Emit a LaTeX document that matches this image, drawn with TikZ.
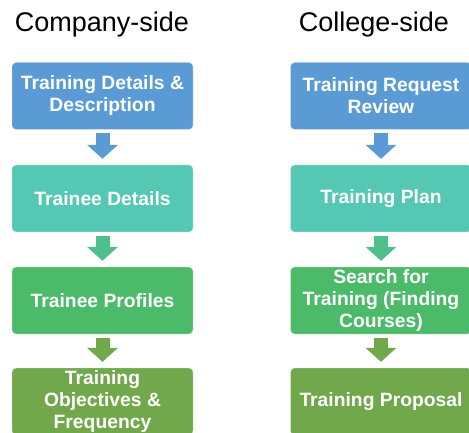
\documentclass[tikz,border=0pt]{standalone}
\usepackage{fontspec}
\setmainfont{Liberation Sans}
\usetikzlibrary{arrows.meta}
\definecolor{stepblue}{HTML}{5B9BD5}
\definecolor{stepteal}{HTML}{55C8B4}
\definecolor{stepgreen}{HTML}{4CBB69}
\definecolor{stepolive}{HTML}{70A84B}
\definecolor{arrowmint}{HTML}{4EC08B}
\tikzset{
	stepbox/.style = {draw = black!12, thin, rounded corners = 4pt, text = white, align = center,
		minimum width = 181pt, minimum height = 67pt, inner sep = 0pt,
		font = \bfseries\fontsize{19.3}{22}\selectfont},
	sidetitle/.style = {font = \fontsize{27}{30}\selectfont, inner sep = 0pt},
	fatarrow/.style = {line width = 14pt, shorten < = 3.5pt, shorten > = 6pt,
		-{Triangle[width = 31pt, length = 14pt, line width = 0pt]}, draw = #1}
}
\begin{document}
\begin{tikzpicture}[x = 1pt, y = -1pt]
		\useasboundingbox (0, 0) rectangle (469, 433);
		\node[sidetitle] (company) at (102, 25) {Company-side};
		\node[sidetitle] (college) at (374, 25) {College-side};
		%%%%%%%%%
		\node[stepbox, fill = stepblue] (details) at (102.5, 96) {Training Details \&\\Description};
		\node[stepbox, fill = stepteal] (trainee) at (102.5, 198.5) {Trainee Details};
		\node[stepbox, fill = stepgreen] (profiles) at (102.5, 300.5) {Trainee Profiles};
		\node[stepbox, fill = stepolive] (objectives) at (102.5, 401.5) {Training\\Objectives \&\\Frequency};
		\draw[fatarrow = stepblue] (details.south) -- (trainee.north);
		\draw[fatarrow = arrowmint] (trainee.south) -- (profiles.north);
		\draw[fatarrow = stepolive] (profiles.south) -- (objectives.north);
		%%%%%%%%%
		\node[stepbox, fill = stepblue] (review) at (381, 96) {Training Request\\Review};
		\node[stepbox, fill = stepteal] (plan) at (381, 198.5) {Training Plan};
		\node[stepbox, fill = stepgreen] (search) at (381, 300.5) {Search for\\Training (Finding\\Courses)};
		\node[stepbox, fill = stepolive] (proposal) at (381, 401.5) {Training Proposal};
		\draw[fatarrow = stepblue] (review.south) -- (plan.north);
		\draw[fatarrow = arrowmint] (plan.south) -- (search.north);
		\draw[fatarrow = stepolive] (search.south) -- (proposal.north);
	\end{tikzpicture}
\end{document}
